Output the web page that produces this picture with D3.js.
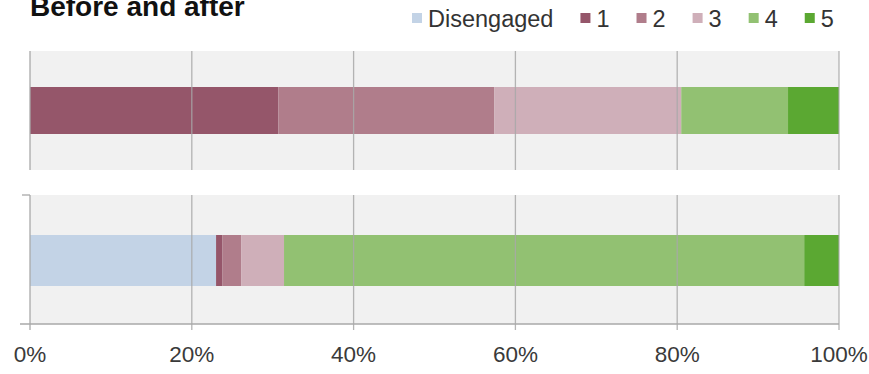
<!DOCTYPE html>
<html><head><meta charset="utf-8">
<script src="https://cdn.jsdelivr.net/npm/d3@7"></script>
<style>body{margin:0;background:#fff;}svg{display:block;font-family:"Liberation Sans",Arial,sans-serif;}</style>
</head><body><svg id="chart" width="869" height="374"></svg>
<script>
const title = "Before and after";
const rows = ["Before", "After"];
const seriesNames = ["Disengaged", "1", "2", "3", "4", "5"];
const beforeValues = [0, 30.7, 26.7, 23.1, 13.2, 6.3];
const afterValues = [23.0, 0.8, 2.3, 5.3, 64.3, 4.3];
const tickValues = [0, 20, 40, 60, 80, 100];
const tickLabels = ["0%", "20%", "40%", "60%", "80%", "100%"];
const colors = ["#c3d3e6", "#95566a", "#b07d8b", "#cfafb9", "#92c172", "#5ba832"];

const svg = d3.select("#chart");
const x = d3.scaleLinear().domain([0, 100]).range([30, 839]);
const color = d3.scaleOrdinal().domain(seriesNames).range(colors);

// panel layout
const panels = [
  {row: "Before", values: beforeValues, top: 51, bottom: 170, barTop: 87, barBottom: 134, axis: false},
  {row: "After", values: afterValues, top: 195, bottom: 324, barTop: 235, barBottom: 286, axis: true}
];

const gridColor = "#a9a9a9";

panels.forEach(p => {
  const g = svg.append("g");
  g.append("rect").attr("x", x(0)).attr("y", p.top).attr("width", x(100) - x(0)).attr("height", p.bottom - p.top).attr("fill", "#f1f1f1");
  const stacked = [];
  let acc = 0;
  p.values.forEach((v, i) => { stacked.push({name: seriesNames[i], x0: acc, x1: acc + v}); acc += v; });
  g.selectAll("rect.seg").data(stacked.filter(d => d.x1 > d.x0)).join("rect")
    .attr("class", "seg")
    .attr("x", d => x(d.x0)).attr("width", d => x(d.x1) - x(d.x0))
    .attr("y", p.barTop).attr("height", p.barBottom - p.barTop)
    .attr("fill", d => color(d.name));
  const extend = p.axis ? 6 : 0;
  g.selectAll("line.grid").data(tickValues).join("line")
    .attr("x1", d => x(d)).attr("x2", d => x(d))
    .attr("y1", p.top).attr("y2", p.bottom + extend)
    .attr("stroke", gridColor).attr("stroke-width", 1.3).attr("opacity", d => d === 0 ? 1 : 0.85);
  if (p.axis) {
    g.append("line").attr("x1", x(0) - 10).attr("x2", x(100)).attr("y1", p.bottom).attr("y2", p.bottom)
      .attr("stroke", gridColor).attr("stroke-width", 1.5);
    g.append("line").attr("x1", x(0) - 8).attr("x2", x(0)).attr("y1", p.top).attr("y2", p.top)
      .attr("stroke", gridColor).attr("stroke-width", 1.3);
  }
});

svg.append("g").selectAll("text").data(tickValues).join("text")
  .attr("x", d => x(d)).attr("y", 362)
  .attr("text-anchor", "middle")
  .attr("font-size", 22.5).attr("fill", "#3a3a3a")
  .text((d, i) => tickLabels[i]);

svg.append("text").attr("x", 30).attr("y", 16).attr("font-size", 28).attr("font-weight", "bold").attr("fill", "#111").text(title);

const legend = svg.append("g");
let lx = 412;
seriesNames.forEach((name, i) => {
  legend.append("rect").attr("x", lx).attr("y", 13).attr("width", 10).attr("height", 10).attr("fill", colors[i]);
  const t = legend.append("text").attr("x", lx + 16).attr("y", 27).attr("font-size", 23.5).attr("fill", "#333").text(name);
  lx += 16 + t.node().getComputedTextLength() + 27;
});
</script>
</body></html>
